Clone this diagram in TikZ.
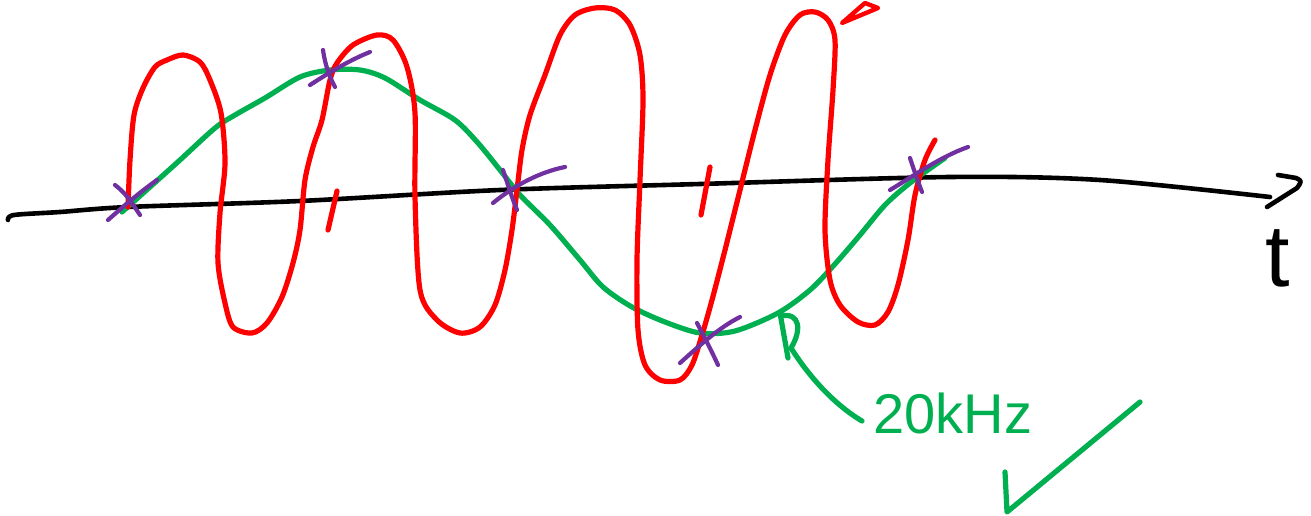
\documentclass[tikz,border=0pt]{standalone}
\usepackage{fontspec}
\setmainfont{Liberation Sans}
\definecolor{penred}{RGB}{255,0,0}
\definecolor{pengreen}{RGB}{0,176,80}
\definecolor{penpurple}{RGB}{112,48,160}
\tikzset{
  ink/.style={line cap=round, line join=round},
  axisline/.style={ink, black, line width=4.6pt},
  wavered/.style={ink, penred, line width=5.2pt},
  wavegreen/.style={ink, pengreen, line width=5.2pt},
  markpurple/.style={ink, penpurple, line width=4.2pt},
  label/.style={inner sep=0pt, pengreen}
}
\begin{document}
\begin{tikzpicture}[x=1pt,y=-1pt]
\useasboundingbox (0,0) rectangle (1311,516);

% time axis
\draw[axisline] plot[smooth, tension=0.5] coordinates {(8,220) (14,215) (60,212) (128,207) (300,201) (500,190) (700,184) (950,177) (1100,180) (1270,197)};
\draw[axisline] (1278,175) -- (1296,178) .. controls (1302,181) .. (1297,188) -- (1267,207);
\node[inner sep=0pt, font=\fontsize{88}{88}\selectfont] (tlabel) at (1278,258) {t};

% green slow wave
\draw[wavegreen] plot[smooth, tension=0.5] coordinates {(122,212) (150,187) (180,160) (215,128) (235,115) (265,98) (300,77) (330,70) (360,70) (385,78) (420,100) (455,120) (478,143) (500,170) (520,195) (550,225) (580,260) (603,287) (632,307) (665,322) (700,333) (735,331) (778,313) (810,290) (835,264) (860,235) (885,205) (910,183) (945,158)};

% red fast wave
\draw[wavered] plot[smooth, tension=0.5] coordinates {(128,207) (130,160) (134,115) (143,88) (155,67) (167,60) (183,55) (200,62) (210,80) (221,113) (225,163) (220,213) (218,263) (225,303) (233,327) (252,333) (267,323) (282,297) (293,263) (300,230) (305,180) (313,147) (322,120) (330,80) (337,63) (353,45) (377,35) (393,40) (407,67) (415,113) (415,197) (420,290) (437,320) (460,333) (480,327) (495,305) (505,270) (512,230) (517,190) (522,150) (530,115) (545,75) (560,35) (575,15) (595,8) (615,10) (630,25) (640,55) (643,100) (640,180) (637,260) (638,330) (645,365) (660,380) (680,380) (692,365) (702,335) (712,300) (725,250) (740,190) (755,130) (770,75) (785,35) (800,15) (815,12) (828,20) (835,40) (833,90) (828,160) (825,230) (830,280) (840,305) (858,322) (875,325) (888,312) (898,285) (908,240) (915,195) (925,160) (935,140)};
\draw[wavered] (337,191) -- (328,230);
\draw[wavered] (710,167) -- (701,215);
\draw[wavered, line width=4.4pt] (842,23) -- (865,3) -- (878,8) -- cycle;

% purple crosses
\draw[markpurple] (108,220) .. controls (125,205) and (140,192) .. (157,180);
\draw[markpurple] (115,185) .. controls (128,195) and (133,205) .. (140,215);
\draw[markpurple] (310,85) .. controls (330,72) and (350,60) .. (370,52);
\draw[markpurple] (323,50) .. controls (325,65) and (330,78) .. (335,87);
\draw[markpurple] (493,203) .. controls (515,185) and (540,172) .. (565,167);
\draw[markpurple] (503,170) .. controls (508,185) and (512,198) .. (517,210);
\draw[markpurple] (680,363) .. controls (700,345) and (720,327) .. (740,317);
\draw[markpurple] (697,323) .. controls (705,338) and (712,352) .. (718,365);
\draw[markpurple] (890,190) .. controls (915,175) and (940,157) .. (968,147);
\draw[markpurple] (910,158) .. controls (914,170) and (918,182) .. (922,192);

% green annotation
\node[label, font=\fontsize{56}{56}\selectfont] (freq) at (953,413) {20kHz};
\draw[wavegreen] (780,313) -- (788,358);
\draw[wavegreen] (781,316) .. controls (800,312) and (802,330) .. (791,348) .. controls (810,378) and (835,405) .. (862,421);
\draw[wavegreen] (1005,472) -- (1007,512) -- (1140,402);
\end{tikzpicture}
\end{document}
